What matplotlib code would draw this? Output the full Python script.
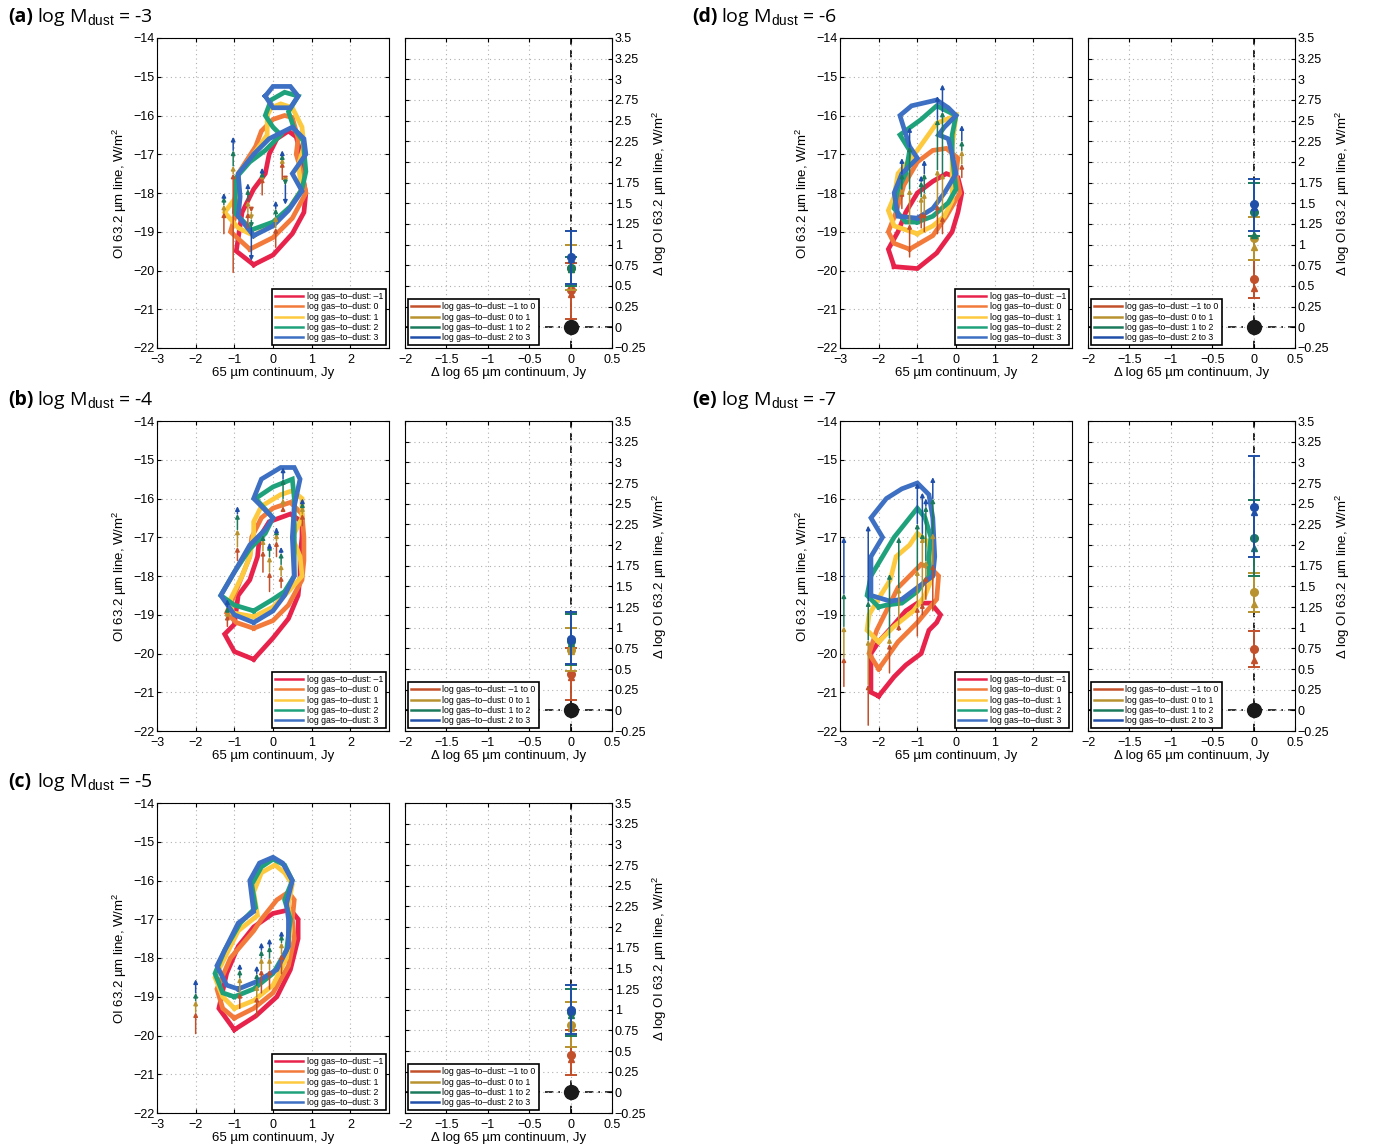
import matplotlib
matplotlib.use('Agg')
import matplotlib.pyplot as plt
import numpy as np
from matplotlib.lines import Line2D
from matplotlib.ticker import FuncFormatter

plt.rcParams['font.family'] = ['Liberation Sans', 'DejaVu Sans']
plt.rcParams['mathtext.fontset'] = 'custom'
plt.rcParams['mathtext.rm'] = 'Liberation Sans'
plt.rcParams['mathtext.it'] = 'Liberation Sans:italic'
plt.rcParams['mathtext.bf'] = 'Liberation Sans:bold'

nan = float('nan')

# panel ids and dust masses
panels = ['a', 'b', 'c', 'd', 'e']
log_mdust = [-3, -4, -5, -6, -7]

# legend labels
level_labels = ['log gas\u2013to\u2013dust: \u20131', 'log gas\u2013to\u2013dust: 0',
                'log gas\u2013to\u2013dust: 1', 'log gas\u2013to\u2013dust: 2',
                'log gas\u2013to\u2013dust: 3']
step_labels = ['log gas\u2013to\u2013dust: \u20131 to 0', 'log gas\u2013to\u2013dust: 0 to 1',
               'log gas\u2013to\u2013dust: 1 to 2', 'log gas\u2013to\u2013dust: 2 to 3']

# contours (x = log 65um continuum, y = log OI line), levels -1, 0, 1, 2, 3
cont_x = {
    'a': [
        [-0.5, 0.0, 0.5, 0.8, 0.85, 0.75, 0.72, 0.6, 0.4, 0.1, -0.1, -0.2, -0.5, -0.8, -0.95, -0.5],
        [-0.6, 0.0, 0.5, 0.85, 0.75, 0.6, 0.65, 0.5, 0.3, 0.0, -0.3, -0.45, -0.9, -0.95, -1.1, -0.6],
        [-0.5, 0.0, 0.45, 0.75, 0.65, 0.8, 0.75, 0.5, 0.2, -0.05, -0.15, -0.15, -0.5, -0.9, -0.95, -1.25, -0.9, -0.5],
        [-0.55, 0.0, 0.45, 0.75, 0.85, 0.78, 0.55, 0.4, 0.65, 0.3, -0.05, -0.2, 0.0, 0.2, -0.2, -0.6, -0.95, -1.0, -0.55],
        [-0.5, -0.9, -0.85, -0.9, -0.5, -0.1, 0.2, 0.5, 0.8, 0.85, 0.5, 0.75, 0.4, 0.0, -0.5,
         nan, -0.2, 0.0, 0.45, 0.65, 0.45, 0.0, -0.2],
    ],
    'b': [
        [-0.5, -1.0, -1.25, -1.0, -0.9, -0.6, -0.4, -0.35, -0.1, 0.45, 0.75, 0.75, 0.7, 0.7, 0.65, 0.4, 0.0, -0.5],
        [-0.5, -0.95, -1.2, -1.0, -0.8, -0.6, -0.55, -0.3, 0.0, 0.45, 0.75, 0.8, 0.8, 0.75, 0.4, 0.0, -0.5],
        [-0.5, -1.05, -1.1, -0.8, -0.6, -0.5, -0.5, -0.3, 0.2, 0.5, 0.75, 0.75, 0.5, 0.7, 0.75, 0.4, 0.0, -0.5],
        [-0.5, -1.0, -1.35, -1.0, -0.6, -0.2, 0.0, -0.45, 0.0, 0.5, 0.55, 0.55, 0.55, 0.3, 0.0, -0.5],
        [-0.5, -1.0, -1.35, -1.0, -0.6, -0.2, 0.0, -0.5, -0.3, 0.2, 0.55, 0.7, 0.55, 0.5, 0.55, 0.3, 0.0, -0.5],
    ],
    'c': [
        [-1.0, -0.45, 0.1, 0.45, 0.65, 0.65, 0.45, 0.0, -0.5, -0.9, -1.2, -1.4, -1.0],
        [-1.0, -0.5, 0.0, 0.4, 0.55, 0.5, 0.55, 0.4, 0.1, -0.3, -0.5, -1.1, -1.45, -1.3, -1.0],
        [-1.0, -0.5, 0.0, 0.35, 0.45, 0.4, 0.5, 0.3, 0.05, -0.3, -0.5, -0.4, -0.9, -1.2, -1.5, -1.3, -1.0],
        [-1.0, -0.5, 0.0, 0.35, 0.45, 0.3, 0.5, 0.3, 0.0, -0.3, -0.55, -0.45, -0.85, -1.25, -1.5, -1.3, -1.0],
        [-0.9, -0.4, 0.1, 0.4, 0.4, 0.35, 0.5, 0.25, 0.0, -0.35, -0.6, -0.5, -0.9, -1.2, -1.45, -1.2, -0.9],
    ],
    'd': [
        [-1.6, -1.0, -0.5, -0.1, 0.05, 0.15, 0.05, -0.25, -0.6, -1.0, -1.3, -1.5, -1.75, -1.6],
        [-1.2, -0.6, -0.25, 0.1, 0.0, 0.05, -0.25, -0.6, -1.0, -1.35, -1.55, -1.75, -1.6, -1.2],
        [-1.0, -0.6, -0.3, -0.1, -0.1, -0.1, 0.0, -0.5, -1.0, -1.5, -1.6, -1.75, -1.6, -1.0],
        [-1.0, -0.6, -0.2, 0.0, -0.1, -0.1, 0.0, -0.2, -0.5, -0.9, -1.45, -1.2, -1.3, -1.5, -1.6, -1.3, -1.0],
        [-1.0, -1.5, -1.6, -1.4, -1.0, -1.2, -1.45, -1.15, -0.5, -0.2, 0.0, -0.3, -0.45, -0.2, -0.1, 0.0, -0.3, -0.6, -1.0],
    ],
    'e': [
        [-2.0, -2.2, -2.2, -2.0, -1.6, -1.3, -1.0, -0.65, -0.4, -0.5, -0.7, -0.9, -1.3, -1.6, -2.0],
        [-2.0, -2.25, -2.05, -1.8, -1.5, -1.2, -0.9, -0.65, -0.45, -0.5, -1.0, -1.5, -2.0],
        [-2.0, -2.3, -2.25, -1.95, -1.7, -1.55, -1.2, -1.0, -0.75, -0.6, -0.6, -0.8, -1.1, -1.6, -2.0],
        [-2.0, -2.3, -2.2, -1.9, -1.6, -1.2, -1.0, -0.8, -0.65, -0.7, -0.7, -1.0, -1.4, -1.8, -2.0],
        [-1.7, -2.2, -2.2, -1.9, -2.2, -1.8, -1.4, -1.0, -0.7, -0.6, -0.55, -0.6, -1.0, -1.4, -1.7],
    ],
}
cont_y = {
    'a': [
        [-19.85, -19.6, -19.05, -18.5, -18.0, -17.5, -17.0, -16.55, -16.4, -16.6, -17.0, -17.5, -17.9, -18.5, -19.5, -19.85],
        [-19.45, -19.15, -18.65, -18.0, -17.5, -17.0, -16.6, -16.05, -16.0, -16.1, -16.4, -16.8, -17.5, -18.5, -19.0, -19.45],
        [-19.1, -18.8, -18.35, -17.9, -17.3, -16.8, -16.3, -15.8, -15.7, -15.8, -16.0, -16.5, -17.0, -17.5, -18.1, -18.5, -18.9, -19.1],
        [-18.95, -18.75, -18.35, -17.9, -17.45, -16.65, -16.35, -15.9, -15.5, -15.4, -15.6, -16.0, -16.3, -16.5, -16.9, -17.2, -17.6, -18.5, -18.95],
        [-19.1, -18.6, -18.1, -17.5, -17.0, -16.6, -16.45, -16.3, -16.6, -17.0, -17.5, -17.95, -18.45, -18.85, -19.1,
         nan, -15.5, -15.25, -15.25, -15.5, -15.8, -15.8, -15.5],
    ],
    'b': [
        [-20.15, -19.95, -19.5, -19.25, -18.5, -18.1, -17.5, -17.0, -16.6, -16.4, -16.6, -17.0, -17.5, -18.0, -18.5, -19.1, -19.6, -20.15],
        [-19.35, -19.2, -18.95, -18.5, -18.0, -17.5, -17.0, -16.5, -16.25, -16.1, -16.4, -17.0, -17.6, -18.1, -18.75, -19.15, -19.35],
        [-19.05, -18.95, -18.6, -18.0, -17.5, -16.9, -16.6, -16.2, -15.9, -15.8, -16.0, -16.5, -17.0, -17.5, -18.0, -18.4, -18.8, -19.05],
        [-18.9, -18.75, -18.5, -17.9, -17.3, -16.9, -16.5, -16.0, -15.7, -15.5, -16.0, -17.0, -18.0, -18.4, -18.6, -18.9],
        [-19.2, -19.0, -18.5, -17.9, -17.2, -16.8, -16.5, -16.0, -15.5, -15.2, -15.2, -15.5, -16.2, -17.0, -18.0, -18.5, -18.9, -19.2],
    ],
    'c': [
        [-19.85, -19.5, -19.0, -18.3, -17.5, -17.0, -16.75, -16.85, -17.2, -17.7, -18.4, -19.3, -19.85],
        [-19.55, -19.3, -18.9, -18.2, -17.5, -17.0, -16.5, -16.3, -16.5, -17.0, -17.3, -18.0, -18.8, -19.3, -19.55],
        [-19.3, -19.1, -18.7, -18.0, -17.3, -16.6, -16.1, -15.8, -15.6, -15.8, -16.3, -16.9, -17.3, -17.9, -18.5, -19.0, -19.3],
        [-19.0, -18.8, -18.4, -17.8, -17.0, -16.5, -16.0, -15.6, -15.45, -15.65, -16.1, -16.7, -17.1, -17.8, -18.4, -18.9, -19.0],
        [-18.8, -18.6, -18.3, -17.7, -17.0, -16.6, -16.0, -15.55, -15.4, -15.55, -16.0, -16.8, -17.1, -17.7, -18.2, -18.7, -18.8],
    ],
    'd': [
        [-19.9, -19.95, -19.55, -19.0, -18.5, -18.0, -17.6, -17.5, -17.7, -18.0, -18.5, -19.0, -19.45, -19.9],
        [-19.45, -19.1, -18.6, -18.0, -17.5, -17.1, -16.85, -16.9, -17.2, -17.8, -18.5, -19.0, -19.3, -19.45],
        [-19.05, -18.85, -18.6, -18.2, -17.5, -16.8, -16.0, -16.2, -16.9, -17.5, -18.1, -18.45, -18.85, -19.05],
        [-18.75, -18.6, -18.25, -17.9, -17.0, -16.5, -16.0, -15.9, -15.75, -16.1, -16.5, -16.9, -17.5, -17.9, -18.4, -18.75, -18.75],
        [-18.65, -18.6, -18.0, -17.5, -17.1, -16.8, -16.0, -15.75, -15.6, -15.8, -16.0, -16.3, -16.5, -16.6, -17.0, -17.5, -18.0, -18.4, -18.65],
    ],
    'e': [
        [-21.1, -21.0, -20.0, -19.7, -19.25, -18.9, -18.7, -18.7, -19.0, -19.2, -19.4, -20.0, -20.3, -20.6, -21.1],
        [-20.4, -20.0, -19.4, -18.9, -18.3, -18.0, -17.7, -17.8, -18.0, -18.6, -19.2, -19.7, -20.4],
        [-19.7, -19.4, -19.0, -18.5, -18.1, -17.5, -17.2, -16.9, -17.1, -17.5, -18.0, -18.5, -18.9, -19.3, -19.7],
        [-18.8, -18.5, -18.0, -17.5, -17.0, -16.5, -16.25, -16.5, -17.0, -17.5, -18.0, -18.4, -18.7, -18.75, -18.8],
        [-18.65, -18.5, -17.5, -17.0, -16.5, -16.0, -15.75, -15.6, -15.9, -16.5, -17.5, -18.0, -18.3, -18.6, -18.65],
    ],
}

# arrow stacks: x position and line value at log g/d = -1, 0, 1, 2, 3
arrow_x = {
    'a': [-1.27, -1.03, -0.65, -0.56, -0.28, 0.07, 0.24, 0.32],
    'b': [-1.18, -0.92, -0.26, -0.09, 0.09, 0.21, 0.26, 0.76],
    'c': [-2.0, -0.86, -0.42, -0.3, -0.09, 0.22],
    'd': [-1.4, -1.2, -0.9, -0.82, -0.48, -0.35, 0.15],
    'e': [-2.9, -2.27, -1.72, -1.48, -1.0, -0.87, -0.78, -0.6],
}
arrow_y = {
    'a': [[-19.05, -18.5, -18.3, -18.1, -18.0], [-20.05, -17.5, -17.3, -16.9, -16.55],
          [-18.9, -18.5, -18.2, -17.9, -17.75], [-18.4, -18.5, -18.7, -18.9, -19.75],
          [-18.05, -17.6, -17.5, -17.45, -17.35], [-19.4, -18.9, -18.6, -18.4, -18.2],
          [-17.65, -17.2, -17.1, -17.0, -16.9], [-17.65, -17.7, -17.75, -17.8, -18.3]],
    'b': [[-19.3, -19.0, -18.9, -18.8, -18.6], [-17.6, -17.25, -16.8, -16.4, -16.2],
          [-17.9, -17.35, -17.05, -16.95, -16.95], [-18.4, -17.9, -17.5, -17.2, -17.15],
          [-17.5, -17.1, -16.9, -16.8, -16.75], [-18.3, -18.0, -17.7, -17.4, -17.25],
          [-16.3, -16.2, -16.0, -15.5, -15.2], [-16.7, -16.4, -16.2, -16.1, -16.0]],
    'c': [[-19.95, -19.4, -19.1, -18.9, -18.55], [-19.3, -18.9, -18.5, -18.3, -18.15],
          [-19.5, -19.0, -18.7, -18.4, -18.2], [-18.9, -18.3, -18.0, -17.8, -17.6],
          [-18.8, -18.3, -18.0, -17.7, -17.5], [-18.4, -17.9, -17.6, -17.4, -17.3]],
    'd': [[-18.4, -17.95, -17.9, -17.5, -17.1], [-19.65, -18.8, -17.9, -16.8, -16.3],
          [-18.9, -18.5, -18.1, -17.7, -17.55], [-19.0, -18.5, -18.0, -17.5, -17.15],
          [-19.05, -18.3, -17.4, -16.1, -15.5], [-19.05, -18.6, -17.5, -15.9, -15.2],
          [-17.6, -17.25, -16.9, -16.65, -16.25]],
    'e': [[-20.85, -20.1, -19.3, -18.45, -17.0], [-21.85, -20.8, -19.65, -18.65, -16.7],
          [-20.5, -19.75, -19.6, -17.95, -17.95], [-19.4, -19.25, -18.3, -17.0, -17.0],
          [-19.55, -18.8, -17.85, -16.65, -15.6], [-19.0, -18.7, -17.0, -16.9, -15.85],
          [-18.6, -18.0, -17.6, -16.2, -16.0], [-18.9, -17.7, -16.9, -16.0, -15.45]],
}

# right panels: mean shift (circle), median shift (triangle), low and high limits
shift_mean = {'a': [0.45, 0.72, 0.72, 0.85], 'b': [0.44, 0.73, 0.84, 0.86],
              'c': [0.45, 0.82, 0.97, 1.00], 'd': [0.59, 1.08, 1.40, 1.49],
              'e': [0.74, 1.43, 2.09, 2.46]}
shift_med = {'a': [0.40, 0.70, 0.70, 0.83], 'b': [0.40, 0.72, 0.82, 0.85],
             'c': [0.40, 0.78, 0.93, 0.98], 'd': [0.47, 0.97, 1.12, 1.45],
             'e': [0.61, 1.29, 1.96, 2.40]}
shift_lo = {'a': [0.10, 0.45, 0.50, 0.53], 'b': [0.13, 0.47, 0.55, 0.56],
            'c': [0.21, 0.55, 0.68, 0.70], 'd': [0.36, 0.81, 1.10, 1.16],
            'e': [0.52, 1.19, 1.62, 1.85]}
shift_hi = {'a': [0.78, 0.99, 0.85, 1.16], 'b': [0.75, 1.00, 1.17, 1.19],
            'c': [0.75, 1.09, 1.25, 1.30], 'd': [0.81, 1.34, 1.75, 1.79],
            'e': [0.96, 1.66, 2.54, 3.08]}

level_colors = ['#e8234b', '#f27a3a', '#fdc93f', '#1fa27c', '#3d6fc2']
step_colors = ['#c2502a', '#b8922e', '#1b7a5c', '#1f4fa8']

# axes positions in pixels: left-x of left plot, right plot, top y
W, H = 1374, 1148
col_left = {'a': 157, 'b': 157, 'c': 157, 'd': 840, 'e': 840}
col_right = {'a': 405, 'b': 405, 'c': 405, 'd': 1088, 'e': 1088}
row_top = {'a': 38, 'b': 421, 'c': 803, 'd': 38, 'e': 421}


def minus(v, pos):
    s = '%g' % v
    return s.replace('-', '\u2212')


fig = plt.figure(figsize=(W / 100, H / 100), dpi=100)

for p, md in zip(panels, log_mdust):
    top = row_top[p]
    ax = fig.add_axes([col_left[p] / W, 1 - (top + 310) / H, 232 / W, 310 / H])
    ax2 = fig.add_axes([col_right[p] / W, 1 - (top + 310) / H, 207 / W, 310 / H])

    # contours
    for xs, ys, c, lab in zip(cont_x[p], cont_y[p], level_colors, level_labels):
        ax.plot(xs, ys, color=c, lw=3.4, solid_joinstyle='miter', label=lab, zorder=2)
    # arrows
    for x, ys in zip(arrow_x[p], arrow_y[p]):
        for k in range(4):
            if abs(ys[k + 1] - ys[k]) < 0.05:
                continue
            ax.annotate('', xy=(x, ys[k + 1]), xytext=(x, ys[k]),
                        arrowprops=dict(arrowstyle='-|>', color=step_colors[k], lw=1.1,
                                        mutation_scale=6, shrinkA=0, shrinkB=0), zorder=3)
    ax.set_xlim(-3, 3)
    ax.set_ylim(-22, -14)
    ax.set_xticks([-3, -2, -1, 0, 1, 2])
    ax.set_yticks(np.arange(-22, -13, 1))
    ax.xaxis.set_major_formatter(FuncFormatter(minus))
    ax.yaxis.set_major_formatter(FuncFormatter(minus))
    ax.grid(True, color='#b0b0b0', linestyle=(0, (1, 3)), lw=0.8)
    ax.tick_params(direction='in', length=3, labelsize=9, top=True, right=True, pad=2)
    ax.tick_params(axis='x', pad=4)
    ax.set_xlabel('65 \u00b5m continuum, Jy', fontsize=9.5, labelpad=1)
    ax.set_ylabel('OI 63.2 \u00b5m line, W/m$^2$', fontsize=9.5, labelpad=3)
    leg = ax.legend(loc='lower right', fontsize=6.3, frameon=True, fancybox=False,
                    edgecolor='black', framealpha=1, borderaxespad=0.3, handlelength=3.2,
                    handletextpad=0.4, labelspacing=0.15, borderpad=0.35)
    leg.get_frame().set_linewidth(1.2)
    for h in leg.get_lines():
        h.set_linewidth(1.8)

    # right: shifts
    ax2.axvline(0, color='#111111', ls=(0, (4, 3)), lw=1.3, zorder=1)
    ax2.axhline(0, color='#111111', ls=(0, (5, 3, 1, 3)), lw=1.2, zorder=1)
    for k in range(4):
        m = shift_mean[p][k]
        ax2.errorbar([0], [m], yerr=[[m - shift_lo[p][k]], [shift_hi[p][k] - m]],
                     fmt='o', color=step_colors[k], ms=5.5, capsize=4, elinewidth=1.4,
                     capthick=1.4, zorder=3 + k)
        ax2.plot([0], [shift_med[p][k]], marker='^', color=step_colors[k], ms=5,
                 ls='none', zorder=3 + k)
    ax2.plot([0], [0], 'o', color='#1a1a1a', ms=10, zorder=10)
    ax2.set_xlim(-2, 0.5)
    ax2.set_ylim(-0.25, 3.5)
    ax2.set_xticks(np.arange(-2, 0.51, 0.5))
    ax2.set_yticks(np.arange(-0.25, 3.51, 0.25))
    ax2.xaxis.set_major_formatter(FuncFormatter(minus))
    ax2.yaxis.set_major_formatter(FuncFormatter(minus))
    ax2.yaxis.tick_right()
    ax2.yaxis.set_label_position('right')
    ax2.grid(True, color='#b0b0b0', linestyle=(0, (1, 3)), lw=0.8)
    ax2.tick_params(direction='in', length=3, labelsize=9, top=True, left=True, pad=2)
    ax2.tick_params(axis='x', pad=4)
    ax2.set_xlabel('\u0394 log 65 \u00b5m continuum, Jy', fontsize=9.5, labelpad=1)
    ax2.set_ylabel('\u0394 log OI 63.2 \u00b5m line, W/m$^2$', fontsize=9.5, labelpad=3)
    handles = [Line2D([], [], color=c, lw=1.8) for c in step_colors]
    leg2 = ax2.legend(handles, step_labels, loc='lower left', fontsize=6.3, frameon=True,
                      fancybox=False, edgecolor='black', framealpha=1, borderaxespad=0.3,
                      handlelength=3.2, handletextpad=0.4, labelspacing=0.15, borderpad=0.35)
    leg2.get_frame().set_linewidth(1.2)
    leg2.set_zorder(20)

    # panel title
    tx = 8 if col_left[p] < 500 else 692
    ty = 1 - (top - 16) / H
    fig.text(tx / W, ty, '(%s)' % p, fontsize=14, weight='bold', family='Open Sans',
             va='baseline')
    fig.text((tx + 29) / W, ty, 'log M$_{\\rm dust}$ = %d' % md, fontsize=14,
             family='Open Sans', va='baseline')

fig.savefig('out.png', dpi=100)
